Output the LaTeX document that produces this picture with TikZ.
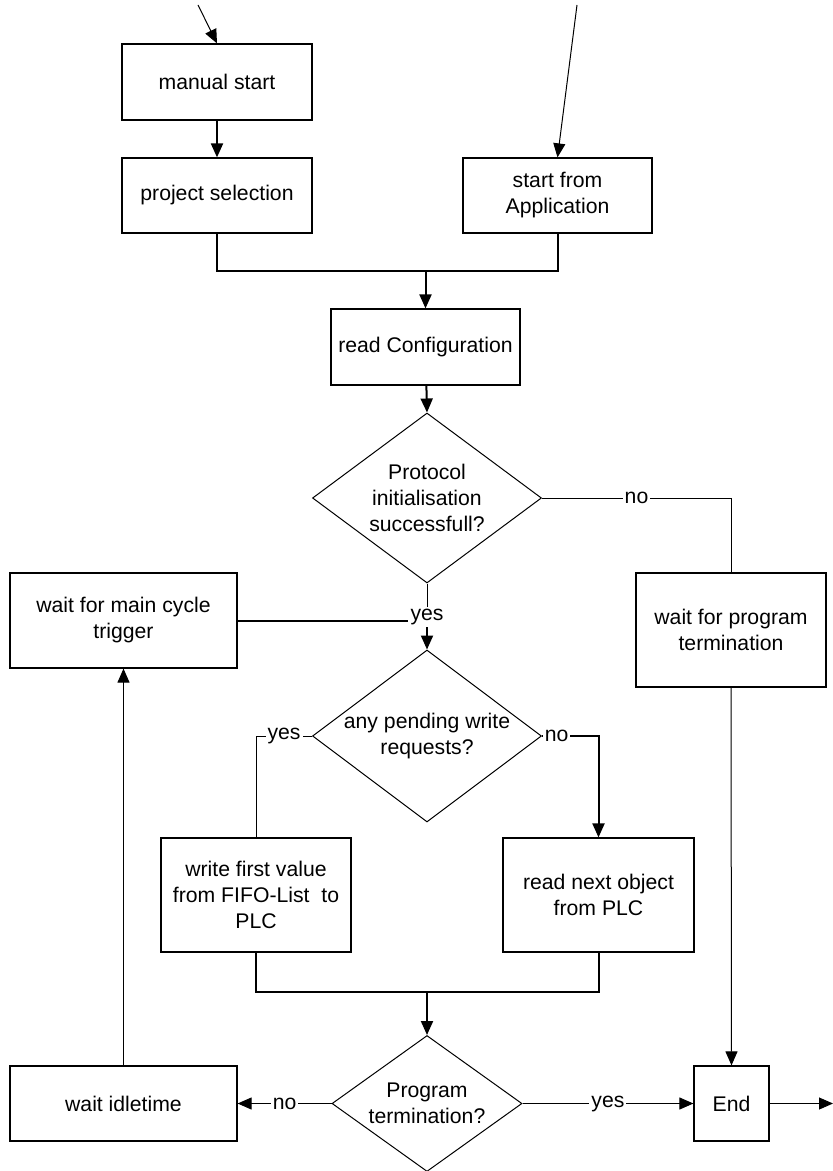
\documentclass[tikz,border=0pt]{standalone}
\usepackage{fontspec}
\setmainfont{Liberation Sans}
\usetikzlibrary{shapes.geometric}
\usetikzlibrary{arrows.meta}

\begin{document}
\begin{tikzpicture}[x=0.5pt, y=-0.5pt,
  every node/.style = {align=center, font=\fontsize{10.6}{13}\selectfont},
  box/.style = {draw, line width=0.6pt, inner sep=2pt},
  decide/.style = {draw, line width=0.5pt, diamond, aspect=1.35, inner sep=0pt},
  flow/.style = {line width=1pt, -{Triangle[length=7pt,width=6pt]}},
  thinflow/.style = {line width=0.5pt, -{Triangle[length=7pt,width=6pt]}},
  thinline/.style = {line width=0.5pt},
  lbl/.style = {fill=white, inner sep=1pt}]
  \useasboundingbox (0,0) rectangle (833,1171);

  % start
  \node[box, minimum width=95pt, minimum height=38pt] (manual) at (217,82) {manual start};
  \node[box, minimum width=95pt, minimum height=37.5pt] (projsel) at (217,195.5) {project selection};
  \node[box, minimum width=94.5pt, minimum height=37.5pt] (appstart) at (557.5,195.5) {start from\\Application};
  \node[box, minimum width=94.5pt, minimum height=38pt] (readcfg) at (425.5,347) {read Configuration};
  \node[decide, minimum width=114.5pt, minimum height=85pt] (proto) at (427,498) {Protocol\\initialisation\\successfull?};

  % main cycle
  \node[box, minimum width=113.5pt, minimum height=47.5pt] (waitmain) at (123.5,620.5) {wait for main cycle\\trigger};
  \node[box, minimum width=95pt, minimum height=57pt] (waitterm) at (731,630) {wait for program\\termination};
  \node[lbl] (yesjoin) at (427,617) {yes};
  \node[decide, minimum width=114.5pt, minimum height=86pt] (pending) at (427,736) {any pending write\\requests?};
  \node[box, minimum width=95pt, minimum height=57pt] (writefifo) at (256,895) {write first value\\from FIFO-List\ \ to\\PLC};
  \node[box, minimum width=95.5pt, minimum height=57pt] (readobj) at (598.5,895) {read next object\\from PLC};

  % end
  \node[decide, minimum width=95pt, minimum height=68pt] (progterm) at (427,1103.5) {Program\\termination?};
  \node[box, minimum width=113.5pt, minimum height=37.5pt] (idle) at (123.5,1103.5) {wait idletime};
  \node[box, minimum width=37.5pt, minimum height=37.5pt] (endnode) at (731.5,1103.5) {End};

  \coordinate (in1) at (198,5);
  \coordinate (in2) at (577,5);
  \coordinate (merge1) at (425.5,271);
  \coordinate (merge2) at (427,992);
  \coordinate (exit) at (833,1103.5);

  \draw[thinflow] (in1) -- (manual.north);
  \draw[thinflow] (in2) -- (appstart.north);
  \draw[flow] (manual) -- (projsel);
  \draw[line width=1pt] (projsel.south) |- (merge1) -| (appstart.south);
  \draw[flow] (merge1) -- (readcfg);
  \draw[flow] (readcfg) -- (proto.north);
  \draw[thinline] (proto.east) -| node[lbl, pos=0.25] {no} (waitterm.north);
  \draw[thinline] (proto.south) -- (yesjoin);
  \draw[line width=1pt] (waitmain.east) -- (waitmain.east -| yesjoin.west);
  \draw[flow] (yesjoin) -- (pending.north);
  \draw[thinline] (pending.west) -| node[lbl, pos=0.25] {yes} (writefifo.north);
  \draw[flow] (pending.east) -| node[lbl, pos=0.13] {no} (readobj.north);
  \draw[line width=1pt] (writefifo.south) |- (merge2) -| (readobj.south);
  \draw[flow] (merge2) -- (progterm.north);
  \draw[thinflow] (progterm.west) -- node[lbl] {no} (idle.east);
  \draw[thinflow] (progterm.east) -- node[lbl] {yes} (endnode.west);
  \draw[thinflow] (endnode.east) -- (exit);
  \draw[thinflow] (waitterm.south) -- (endnode.north);
  \draw[thinflow] (idle.north) -- (waitmain.south);
\end{tikzpicture}
\end{document}
